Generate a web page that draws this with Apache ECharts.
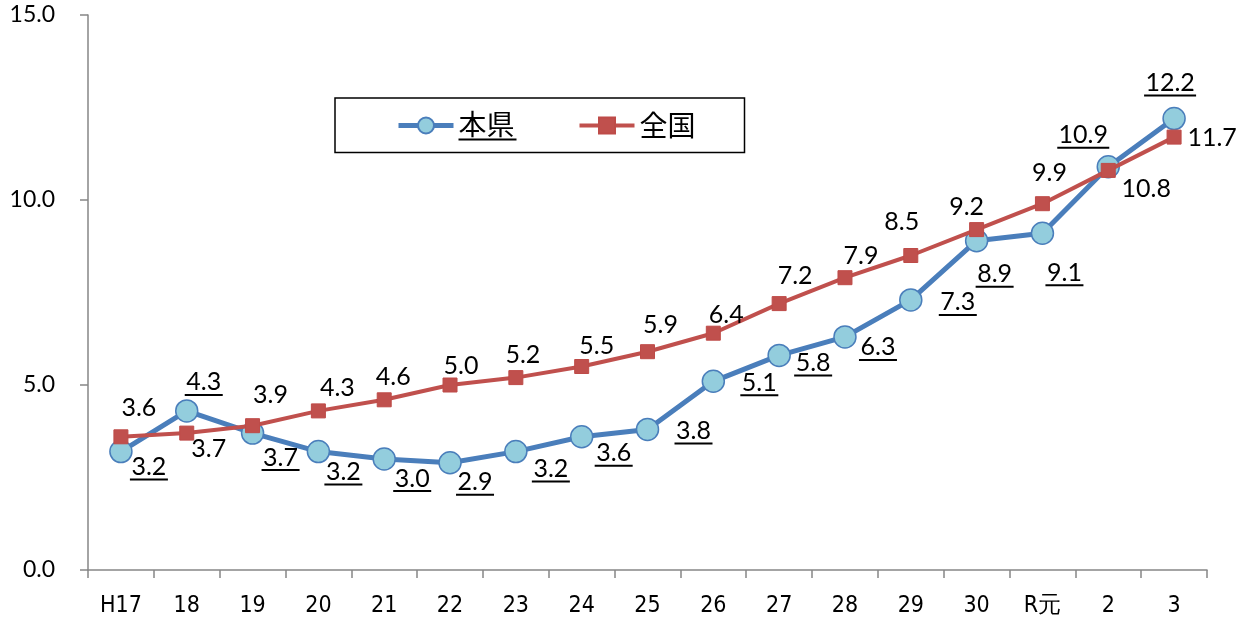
<!DOCTYPE html>
<html>
<head>
<meta charset="utf-8">
<script src="https://cdn.jsdelivr.net/npm/echarts@6/dist/echarts.min.js"></script>
<style>
html,body{margin:0;padding:0;background:#fff;}
#chart{width:1247px;height:620px;}
</style>
</head>
<body>
<div id="chart"></div>
<script>
const categories = ['H17','18','19','20','21','22','23','24','25','26','27','28','29','30','R元','2','3'];
const kenValues = [3.2,4.3,3.7,3.2,3.0,2.9,3.2,3.6,3.8,5.1,5.8,6.3,7.3,8.9,9.1,10.9,12.2];
const zenValues = [3.6,3.7,3.9,4.3,4.6,5.0,5.2,5.5,5.9,6.4,7.2,7.9,8.5,9.2,9.9,10.8,11.7];
const yTicks = [0,5,10,15];

// label offsets (style only)
const kenOffsets = [[28,17],[17,-27],[28,26],[25,22],[28,21],[25,21],[35,19],[32,18],[46,3],[46,3],[34,9],[33,12],[47,4],[18,35],[22,41],[-25,-30],[-4,-34]];
const zenOffsets = [[18,-29],[22,16],[18,-31],[19,-23],[9,-23],[11,-19],[7,-23],[15,-21],[13,-27],[13,-18],[16,-28],[16,-22],[-9,-34],[-10,-23],[7,-31],[38,19],[38,1]];

const FONT = 'Lato, "Noto Sans", sans-serif';
const chart = echarts.init(document.getElementById('chart'));

const kenData = kenValues.map((v, i) => ({value: v, label: {offset: kenOffsets[i]}}));
const zenData = zenValues.map((v, i) => ({value: v, label: {offset: zenOffsets[i]}}));

chart.setOption({
  animation: false,
  backgroundColor: '#fff',
  grid: {left: 88, right: 40, top: 15, bottom: 50, containLabel: false},
  legend: {
    data: [
      {name: '本県', lineStyle: {width: 5}},
      {name: '全国', lineStyle: {width: 4}}
    ],
    left: 335, top: 98,
    orient: 'horizontal',
    itemWidth: 55, itemHeight: 20, itemGap: 61,
    borderColor: '#000', borderWidth: 1.5,
    padding: [12, 49, 12, 61],
    textStyle: {
      fontFamily: '"Noto Sans CJK JP", sans-serif', fontSize: 28, color: '#000',
      rich: {
        t: {fontFamily: '"Noto Sans CJK JP", sans-serif', fontSize: 28, lineHeight: 28, color: '#000'},
        u: {fontSize: 1, lineHeight: 3, height: 2, width: 58, backgroundColor: '#000'}
      }
    },
    formatter: function (name) {
      return name === '本県' ? '{t|' + name + '}\n{u| }' : name;
    }
  },
  xAxis: {
    type: 'category',
    data: categories,
    boundaryGap: true,
    axisLine: {lineStyle: {color: '#868686', width: 1.5}},
    axisTick: {show: true, length: 8, inside: false, lineStyle: {color: '#868686', width: 1.5}},
    axisLabel: {color: '#000', fontSize: 23, fontFamily: '"Liberation Sans Narrow", "DejaVu Sans Condensed", sans-serif', margin: 25, interval: 0}
  },
  yAxis: {
    type: 'value',
    min: yTicks[0], max: yTicks[yTicks.length - 1], interval: 5,
    splitLine: {show: false},
    axisLine: {show: true, lineStyle: {color: '#868686', width: 1.5}},
    axisTick: {show: true, length: 8, inside: false, lineStyle: {color: '#868686', width: 1.5}},
    axisLabel: {color: '#000', fontSize: 23, fontFamily: FONT, margin: 33, formatter: v => v.toFixed(1)}
  },
  series: [
    {
      name: '本県',
      type: 'line',
      data: kenData,
      symbol: 'circle',
      symbolSize: 22,
      lineStyle: {color: '#4A7EBB', width: 5},
      itemStyle: {color: '#93CDDD', borderColor: '#4A7EBB', borderWidth: 1.5},
      label: {
        show: true,
        position: 'inside',
        formatter: function (p) {
          const s = p.value.toFixed(1);
          return '{v|' + s + '}\n{' + (s.length > 3 ? 'u4' : 'u3') + '| }';
        },
        rich: {
          v: {fontFamily: FONT, fontSize: 25, lineHeight: 22, color: '#000'},
          u3: {fontSize: 1, lineHeight: 3, height: 2, width: 38, backgroundColor: '#000'},
          u4: {fontSize: 1, lineHeight: 3, height: 2, width: 52, backgroundColor: '#000'}
        }
      },
      z: 2
    },
    {
      name: '全国',
      type: 'line',
      data: zenData,
      symbol: 'rect',
      symbolSize: 14,
      lineStyle: {color: '#C0504D', width: 4},
      itemStyle: {color: '#C0504D', borderColor: '#BE4B48', borderWidth: 1},
      label: {
        show: true,
        position: 'inside',
        fontFamily: FONT, fontSize: 25, color: '#000',
        formatter: p => p.value.toFixed(1)
      },
      z: 3
    }
  ]
});
</script>
</body>
</html>
